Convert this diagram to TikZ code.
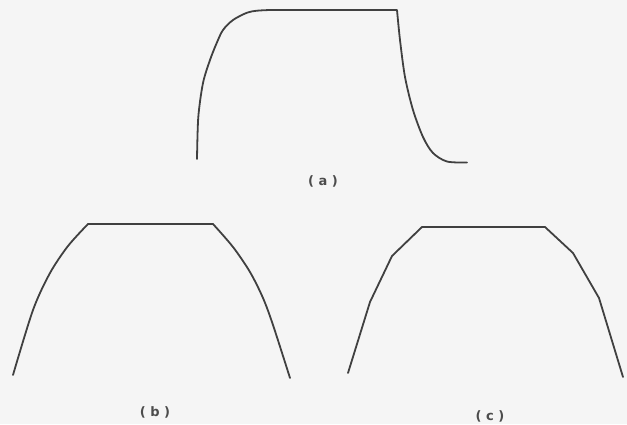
\documentclass[tikz,border=0pt]{standalone}
\usepackage{fontspec}
\setmainfont{DejaVu Sans}
\begin{document}
\begin{tikzpicture}[x=1pt,y=-1pt,
  curve/.style={draw=black!75,line width=1.8pt,line join=round,line cap=round},
  lbl/.style={text=black!70,font=\fontsize{13}{15}\selectfont\bfseries,inner sep=0pt}]
\fill[black!4] (0,0) rectangle (627,424);
\useasboundingbox (0,0) rectangle (627,424);
% (a)
\draw[curve] plot[smooth,tension=0.5] coordinates {(197,159) (198.3,117) (203,83) (210,60) (216.7,43) (223,30) (233,20) (247,12.7) (257,10.7) (270,10)}
  -- (397,10) -- plot[smooth,tension=0.5] coordinates {(397,10) (400,40) (405,77) (413,110) (423,137) (433,153) (447,161.5) (467,162.5)};
\node[lbl] (la) at (323,181) {( a )};
% (b)
\draw[curve] plot[smooth,tension=0.5] coordinates {(13,375) (33,310) (50,273) (68,246) (88,224)}
  -- (213,224) -- plot[smooth,tension=0.5] coordinates {(213,224) (233,247) (250,272) (263,298) (273,325) (290,378)};
\node[lbl] (lb) at (155,412) {( b )};
% (c)
\draw[curve] (348,373) -- (370,302) -- (392,256) -- (422,227) -- (545,227)
  -- (573,253) -- (599,298) -- (623,377);
\node[lbl] (lc) at (490,416) {( c )};
\end{tikzpicture}
\end{document}
